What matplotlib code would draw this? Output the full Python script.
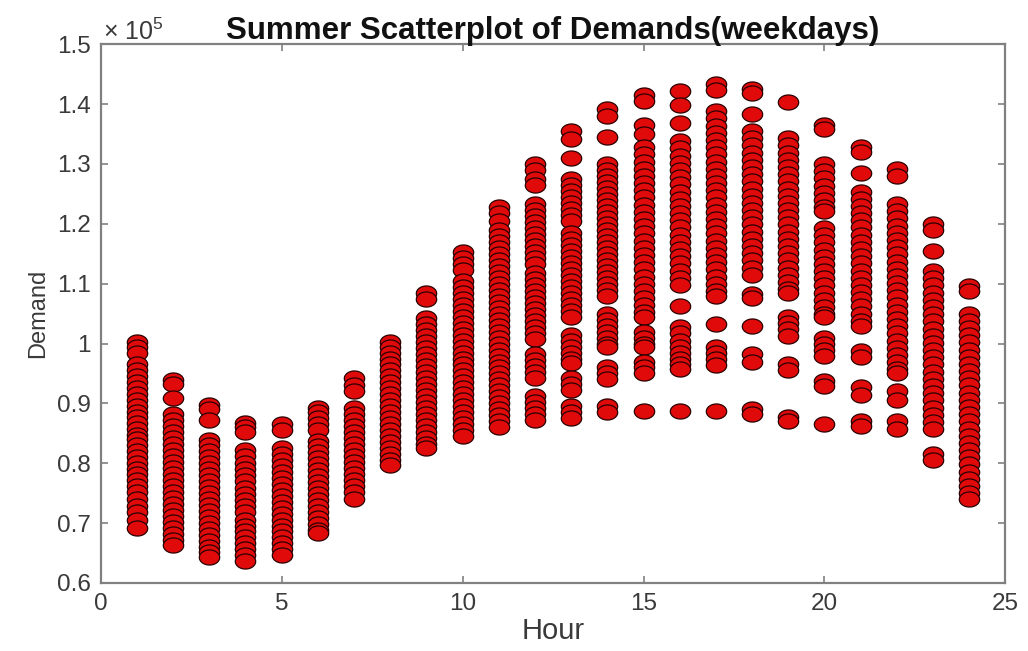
import numpy as np
import matplotlib
matplotlib.use("Agg")
import matplotlib.pyplot as plt
from matplotlib.path import Path
from matplotlib.ticker import FixedLocator, FuncFormatter

# Demand values, in units of 1e5
demand_h01 = [1.003, 0.995, 0.985, 0.965, 0.955, 0.945, 0.935, 0.925, 0.915, 0.905, 0.895, 0.885, 0.878, 0.868,
              0.858, 0.848, 0.840, 0.830, 0.820, 0.810, 0.800, 0.790, 0.782, 0.772, 0.762, 0.752, 0.740, 0.728,
              0.718, 0.705, 0.692]
demand_h02 = [0.939, 0.932, 0.909, 0.883, 0.872, 0.862, 0.852, 0.842, 0.832, 0.822, 0.812, 0.802, 0.792, 0.782,
              0.772, 0.762, 0.752, 0.742, 0.732, 0.722, 0.712, 0.702, 0.692, 0.682, 0.672, 0.664]
demand_h03 = [0.897, 0.890, 0.872, 0.839, 0.830, 0.820, 0.810, 0.800, 0.790, 0.780, 0.770, 0.760, 0.750, 0.740,
              0.730, 0.720, 0.710, 0.700, 0.690, 0.680, 0.670, 0.660, 0.652, 0.644]
demand_h04 = [0.868, 0.860, 0.852, 0.822, 0.812, 0.800, 0.790, 0.780, 0.770, 0.758, 0.748, 0.738, 0.728, 0.718,
              0.706, 0.696, 0.686, 0.676, 0.666, 0.656, 0.646, 0.637]
demand_h05 = [0.865, 0.855, 0.826, 0.816, 0.806, 0.796, 0.786, 0.776, 0.766, 0.756, 0.746, 0.736, 0.726, 0.716,
              0.706, 0.696, 0.686, 0.676, 0.666, 0.656, 0.646]
demand_h06 = [0.892, 0.885, 0.876, 0.866, 0.856, 0.838, 0.828, 0.818, 0.808, 0.798, 0.788, 0.778, 0.768, 0.758,
              0.748, 0.738, 0.728, 0.718, 0.708, 0.698, 0.689, 0.683]
demand_h07 = [0.942, 0.930, 0.920, 0.892, 0.882, 0.872, 0.862, 0.852, 0.842, 0.832, 0.822, 0.812, 0.802, 0.792,
              0.782, 0.772, 0.762, 0.752, 0.741]
demand_h08 = [1.003, 0.995, 0.985, 0.975, 0.965, 0.955, 0.945, 0.935, 0.925, 0.915, 0.905, 0.895, 0.885, 0.875,
              0.865, 0.855, 0.845, 0.835, 0.825, 0.815, 0.805, 0.797]
demand_h09 = [1.085, 1.075, 1.043, 1.033, 1.023, 1.013, 1.003, 0.993, 0.983, 0.973, 0.963, 0.953, 0.943, 0.933,
              0.923, 0.913, 0.903, 0.893, 0.883, 0.873, 0.863, 0.853, 0.843, 0.833, 0.825]
demand_h10 = [1.153, 1.143, 1.133, 1.123, 1.105, 1.095, 1.085, 1.075, 1.065, 1.055, 1.045, 1.035, 1.025, 1.015,
              1.005, 0.995, 0.985, 0.975, 0.965, 0.955, 0.945, 0.935, 0.925, 0.915, 0.905, 0.895, 0.885, 0.875,
              0.865, 0.855, 0.846]
demand_h11 = [1.228, 1.218, 1.205, 1.190, 1.180, 1.170, 1.160, 1.150, 1.140, 1.130, 1.120, 1.110, 1.100, 1.090,
              1.080, 1.070, 1.060, 1.050, 1.040, 1.030, 1.020, 1.010, 1.000, 0.990, 0.980, 0.970, 0.960, 0.950,
              0.940, 0.930, 0.920, 0.910, 0.900, 0.890, 0.880, 0.870, 0.860]
demand_h12 = [1.300, 1.290, 1.275, 1.265, 1.233, 1.223, 1.213, 1.203, 1.193, 1.183, 1.173, 1.163, 1.153, 1.143,
              1.133, 1.118, 1.108, 1.098, 1.088, 1.078, 1.068, 1.058, 1.048, 1.038, 1.028, 1.018, 1.008, 0.982,
              0.972, 0.962, 0.952, 0.942, 0.912, 0.902, 0.892, 0.882, 0.872]
demand_h13 = [1.355, 1.342, 1.310, 1.275, 1.265, 1.255, 1.245, 1.235, 1.225, 1.215, 1.205, 1.185, 1.175, 1.165,
              1.155, 1.145, 1.135, 1.125, 1.115, 1.105, 1.095, 1.085, 1.075, 1.065, 1.055, 1.045, 1.015, 1.005,
              0.995, 0.985, 0.975, 0.967, 0.943, 0.933, 0.923, 0.895, 0.885, 0.875]
demand_h14 = [1.392, 1.380, 1.345, 1.300, 1.290, 1.280, 1.270, 1.260, 1.250, 1.240, 1.230, 1.220, 1.210, 1.200,
              1.190, 1.180, 1.170, 1.160, 1.150, 1.140, 1.130, 1.120, 1.110, 1.100, 1.090, 1.080, 1.050, 1.040,
              1.030, 1.020, 1.010, 1.000, 0.995, 0.960, 0.950, 0.940, 0.895, 0.885]
demand_h15 = [1.415, 1.405, 1.365, 1.350, 1.328, 1.316, 1.304, 1.292, 1.280, 1.268, 1.256, 1.244, 1.232, 1.220,
              1.208, 1.196, 1.184, 1.172, 1.160, 1.148, 1.136, 1.124, 1.112, 1.100, 1.088, 1.076, 1.064, 1.052,
              1.045, 1.020, 1.010, 1.000, 0.995, 0.970, 0.960, 0.950, 0.888]
demand_h16 = [1.422, 1.398, 1.368, 1.338, 1.326, 1.314, 1.302, 1.290, 1.278, 1.266, 1.254, 1.242, 1.230, 1.218,
              1.206, 1.194, 1.182, 1.170, 1.158, 1.146, 1.134, 1.122, 1.110, 1.098, 1.062, 1.027, 1.017, 1.005,
              0.995, 0.985, 0.975, 0.965, 0.957, 0.888]
demand_h17 = [1.433, 1.424, 1.388, 1.376, 1.364, 1.352, 1.340, 1.328, 1.316, 1.304, 1.292, 1.280, 1.268, 1.256,
              1.244, 1.232, 1.220, 1.208, 1.196, 1.184, 1.172, 1.160, 1.148, 1.136, 1.124, 1.112, 1.100, 1.088,
              1.080, 1.032, 0.994, 0.984, 0.974, 0.964, 0.888]
demand_h18 = [1.426, 1.418, 1.384, 1.355, 1.343, 1.331, 1.319, 1.307, 1.295, 1.283, 1.271, 1.259, 1.247, 1.235,
              1.223, 1.211, 1.199, 1.187, 1.175, 1.163, 1.151, 1.139, 1.127, 1.115, 1.082, 1.076, 1.030, 0.982,
              0.970, 0.890, 0.882]
demand_h19 = [1.404, 1.343, 1.331, 1.319, 1.307, 1.295, 1.283, 1.271, 1.259, 1.247, 1.235, 1.223, 1.211, 1.199,
              1.187, 1.175, 1.163, 1.151, 1.139, 1.127, 1.115, 1.103, 1.091, 1.085, 1.044, 1.034, 1.024, 1.013,
              0.965, 0.956, 0.877, 0.870]
demand_h20 = [1.365, 1.358, 1.300, 1.288, 1.276, 1.264, 1.252, 1.240, 1.228, 1.222, 1.193, 1.181, 1.169, 1.157,
              1.145, 1.133, 1.121, 1.109, 1.097, 1.085, 1.073, 1.061, 1.049, 1.045, 1.010, 1.000, 0.990, 0.979,
              0.937, 0.929, 0.866]
demand_h21 = [1.328, 1.320, 1.285, 1.254, 1.242, 1.230, 1.218, 1.206, 1.194, 1.182, 1.170, 1.158, 1.146, 1.134,
              1.122, 1.110, 1.098, 1.086, 1.074, 1.062, 1.050, 1.038, 1.029, 0.987, 0.978, 0.927, 0.914, 0.871,
              0.862]
demand_h22 = [1.292, 1.280, 1.233, 1.221, 1.209, 1.197, 1.185, 1.173, 1.161, 1.149, 1.137, 1.125, 1.113, 1.101,
              1.089, 1.077, 1.065, 1.053, 1.041, 1.029, 1.017, 1.005, 0.993, 0.981, 0.969, 0.957, 0.950, 0.920,
              0.906, 0.871, 0.858]
demand_h23 = [1.200, 1.190, 1.155, 1.121, 1.109, 1.097, 1.085, 1.073, 1.061, 1.049, 1.037, 1.025, 1.013, 1.001,
              0.989, 0.977, 0.965, 0.953, 0.941, 0.929, 0.917, 0.905, 0.893, 0.881, 0.869, 0.858, 0.815, 0.806]
demand_h24 = [1.096, 1.088, 1.050, 1.038, 1.026, 1.014, 1.002, 0.990, 0.978, 0.966, 0.954, 0.942, 0.930, 0.918,
              0.906, 0.894, 0.882, 0.870, 0.858, 0.846, 0.834, 0.822, 0.810, 0.798, 0.786, 0.774, 0.762, 0.750,
              0.740]

hours = list(range(1, 25))
demand_by_hour = [demand_h01, demand_h02, demand_h03, demand_h04, demand_h05, demand_h06, demand_h07, demand_h08,
                  demand_h09, demand_h10, demand_h11, demand_h12, demand_h13, demand_h14, demand_h15, demand_h16,
                  demand_h17, demand_h18, demand_h19, demand_h20, demand_h21, demand_h22, demand_h23, demand_h24]

x_ticks = [0, 5, 10, 15, 20, 25]
y_ticks = [0.6, 0.7, 0.8, 0.9, 1.0, 1.1, 1.2, 1.3, 1.4, 1.5]

title_text = "Summer Scatterplot of Demands(weekdays)"
x_label = "Hour"
y_label = "Demand"

plt.rcParams['font.family'] = ['Liberation Sans', 'DejaVu Sans']
plt.rcParams['mathtext.fontset'] = 'custom'
plt.rcParams['mathtext.rm'] = 'Liberation Sans'
plt.rcParams['mathtext.it'] = 'Liberation Sans'

fig = plt.figure(figsize=(10.28, 6.51), dpi=100)
ax = fig.add_axes([0.098, 0.1045, 0.880, 0.8275])

# flattened ellipse marker (circles appear squashed in the reference)
theta = np.linspace(0, 2 * np.pi, 60)
ellipse = Path(np.column_stack([np.cos(theta), 0.74 * np.sin(theta)]), closed=True)

xs = []
ys = []
for h, vals in zip(hours, demand_by_hour):
    xs.extend([h] * len(vals))
    ys.extend(vals)

ax.scatter(xs, ys, s=215, marker=ellipse, facecolor='#e00a0a', edgecolor='#2a0000', linewidths=0.9, zorder=3)

ax.set_xlim(0, 25)
ax.set_ylim(0.6, 1.5)
ax.xaxis.set_major_locator(FixedLocator(x_ticks))
ax.yaxis.set_major_locator(FixedLocator(y_ticks))
ax.yaxis.set_major_formatter(FuncFormatter(lambda v, p: f"{v:g}"))

spine_col = '#808080'
text_col = '#3a3a3a'
for sp in ax.spines.values():
    sp.set_color(spine_col)
    sp.set_linewidth(1.6)
ax.tick_params(direction='in', length=5, width=1.2, color=spine_col, labelcolor=text_col,
               labelsize=17.5, top=True, right=True, pad=7)

ax.set_title(title_text, fontsize=22.5, fontweight='bold', color='#111111', pad=4)
ax.set_xlabel(x_label, fontsize=21, color=text_col, labelpad=2)
ax.set_ylabel(y_label, fontsize=17, color=text_col, labelpad=6)
ax.text(0.003, 0.998, "× 10$^{5}$", transform=ax.transAxes, ha='left', va='bottom',
        fontsize=18, color=text_col)

fig.savefig("out.png", dpi=100)
